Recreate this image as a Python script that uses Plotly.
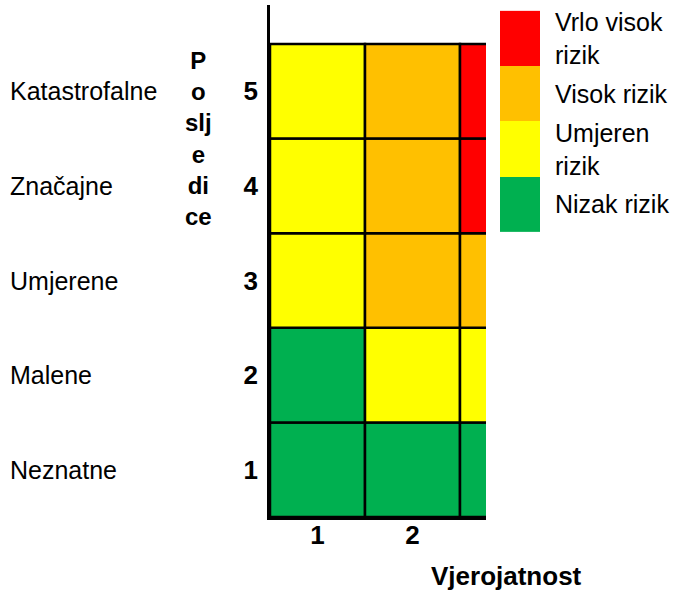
import plotly.graph_objects as go

# ---- data ----
likelihood = [1, 2, 3]
consequence = [1, 2, 3, 4, 5]
consequence_names = ["Neznatne", "Malene", "Umjerene", "Značajne", "Katastrofalne"]
# risk level per consequence row (1..5), per likelihood column (1..3)
risk_row_1 = ["Nizak rizik", "Nizak rizik", "Nizak rizik"]
risk_row_2 = ["Nizak rizik", "Umjeren rizik", "Umjeren rizik"]
risk_row_3 = ["Umjeren rizik", "Visok rizik", "Visok rizik"]
risk_row_4 = ["Umjeren rizik", "Visok rizik", "Vrlo visok rizik"]
risk_row_5 = ["Umjeren rizik", "Visok rizik", "Vrlo visok rizik"]
risk_rows = [risk_row_1, risk_row_2, risk_row_3, risk_row_4, risk_row_5]

legend_labels = ["Vrlo visok rizik", "Visok rizik", "Umjeren rizik", "Nizak rizik"]
legend_display = ["Vrlo visok<br>rizik", "Visok rizik", "Umjeren<br>rizik", "Nizak rizik"]
legend_colors = ["#FF0000", "#FFC000", "#FFFF00", "#00B050"]

x_title = "Vjerojatnost"
y_title = "P<br>o<br>slj<br>e<br>di<br>ce"

# ---- build ----
W, H = 678, 591
color_of = dict(zip(legend_labels, legend_colors))
FONT = "Liberation Sans, Arial, sans-serif"

xs, bases, ys, cols = [], [], [], []
for c, row in zip(consequence, risk_rows):
    for l, r in zip(likelihood, row):
        xs.append(l)
        bases.append(c - 0.5)
        ys.append(1)
        cols.append(color_of[r])

fig = go.Figure()
fig.add_trace(go.Bar(
    x=xs, y=ys, base=bases, width=1,
    marker=dict(color=cols, line=dict(color="black", width=2.5)),
    showlegend=False, hoverinfo="skip", xaxis="x", yaxis="y",
))

# legend as a small heatmap column
n = len(legend_labels)
zvals = [[i] for i in range(n)]
fig.add_trace(go.Heatmap(
    z=zvals, x=[0], y=legend_labels, zmin=0, zmax=n - 1,
    colorscale=[[i / (n - 1), c] for i, c in enumerate(legend_colors)],
    showscale=False, hoverinfo="skip", xaxis="x2", yaxis="y2",
))

row_h = (517 - 44) / 5
y_top = 0.5 + (517 - 5) / row_h
x_right = 0.5 + (486 - 270) / 95

annotations = []
for c, name in zip(consequence, consequence_names):
    annotations.append(dict(x=8 / W, xref="paper", y=c, yref="y", text=name,
                            xanchor="left", yanchor="middle", showarrow=False,
                            font=dict(size=25, color="black", family=FONT)))
for lab, disp in zip(legend_labels, legend_display):
    annotations.append(dict(x=553 / W, xref="paper", y=lab, yref="y2", text=disp,
                            xanchor="left", yanchor="middle", showarrow=False, align="left",
                            font=dict(size=25, color="black", family=FONT)))
annotations.append(dict(x=198 / W, xref="paper", y=1 - 138 / H, yref="paper", text="<b>" + y_title + "</b>",
                        xanchor="center", yanchor="middle", showarrow=False, align="center",
                        font=dict(size=24, color="black", family=FONT)))
annotations.append(dict(x=506 / W, xref="paper", y=1 - 576 / H, yref="paper", text="<b>" + x_title + "</b>",
                        xanchor="center", yanchor="middle", showarrow=False,
                        font=dict(size=26, color="black", family=FONT)))

fig.update_layout(
    width=W, height=H,
    margin=dict(l=0, r=0, t=0, b=0),
    paper_bgcolor="white", plot_bgcolor="white",
    barmode="overlay",
    xaxis=dict(domain=[270 / W, 486 / W], range=[0.5, x_right], showgrid=False, zeroline=False,
               showline=True, linecolor="black", linewidth=2.5,
               tickvals=likelihood, ticktext=["<b>%d</b>" % v for v in likelihood],
               ticks="", ticklabelstandoff=-7,
               tickfont=dict(size=26, color="black", family=FONT), fixedrange=True),
    yaxis=dict(domain=[1 - 517 / H, 1 - 5 / H], range=[0.5, y_top], showgrid=False, zeroline=False,
               showline=True, linecolor="black", linewidth=2.5,
               tickvals=consequence, ticktext=["<b>%d</b>" % v for v in consequence],
               ticks="", ticklabelstandoff=4,
               tickfont=dict(size=26, color="black", family=FONT), fixedrange=True),
    xaxis2=dict(domain=[500 / W, 540 / W], anchor="y2", visible=False, showgrid=False, zeroline=False),
    yaxis2=dict(domain=[1 - 232 / H, 1 - 6 / H], anchor="x2", visible=False, showgrid=False,
                zeroline=False, autorange="reversed", type="category"),
    annotations=annotations,
)

fig.write_html("out.html", config={"displayModeBar": False},
               post_script="document.body.style.margin='0';document.body.style.overflow='hidden';")
